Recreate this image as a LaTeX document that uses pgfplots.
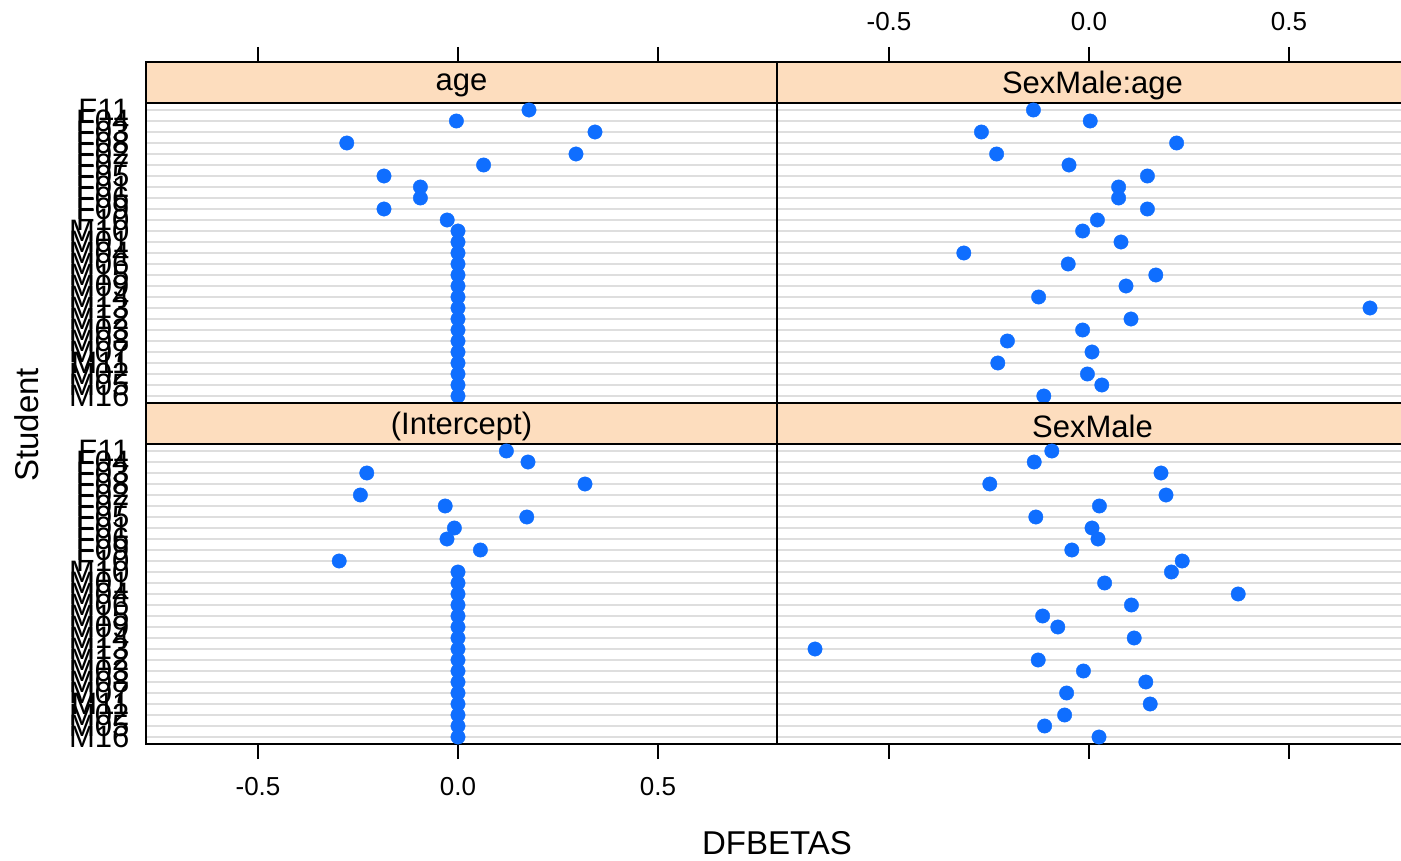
\documentclass[border=0pt]{standalone}
\usepackage{fontspec}
\setmainfont{Liberation Sans}
\usepackage{pgfplots}
\pgfplotsset{compat=1.18}

\definecolor{dotblue}{RGB}{15,110,255}
\definecolor{stripcol}{RGB}{253,221,190}
\definecolor{gridcol}{RGB}{222,222,222}

% rows, bottom to top
\def\students{M16,M05,M02,M11,M07,M08,M03,M12,M13,M14,M09,M15,M06,M04,M01,M10,F10,F09,F06,F01,F05,F07,F02,F08,F03,F04,F11}

\pgfplotstableread{
row val
1 0
2 0
3 0
4 0
5 0
6 0
7 0
8 0
9 0
10 0
11 0
12 0
13 0
14 0
15 0
16 0
17 -0.027
18 -0.185
19 -0.094
20 -0.094
21 -0.185
22 0.064
23 0.295
24 -0.278
25 0.3425
26 -0.004
27 0.1775
}\agetab

\pgfplotstableread{
row val
1 -0.113
2 0.032
3 -0.004
4 -0.228
5 0.0075
6 -0.204
7 -0.016
8 0.105
9 0.7025
10 -0.126
11 0.0925
12 0.167
13 -0.052
14 -0.313
15 0.08
16 -0.016
17 0.021
18 0.146
19 0.074
20 0.074
21 0.146
22 -0.05
23 -0.231
24 0.219
25 -0.269
26 0.003
27 -0.139
}\sexagetab

\pgfplotstableread{
row val
1 0
2 0
3 0
4 0
5 0
6 0
7 0
8 0
9 0
10 0
11 0
12 0
13 0
14 0
15 0
16 0
17 -0.297
18 0.056
19 -0.0275
20 -0.009
21 0.172
22 -0.032
23 -0.244
24 0.3175
25 -0.228
26 0.175
27 0.121
}\intertab

\pgfplotstableread{
row val
1 0.025
2 -0.111
3 -0.061
4 0.153
5 -0.056
6 0.142
7 -0.014
8 -0.127
9 -0.685
10 0.113
11 -0.078
12 -0.116
13 0.106
14 0.373
15 0.039
16 0.206
17 0.233
18 -0.043
19 0.0225
20 0.0075
21 -0.133
22 0.026
23 0.1925
24 -0.248
25 0.18
26 -0.137
27 -0.093
}\sextab

\pgfplotsset{
  dfb/.style={
    scale only axis, width=631pt, height=341pt,
    anchor=south west,
    xmin=-0.78, xmax=0.7975, ymin=0.364, ymax=31.364,
    xtick={-0.5,0,0.5}, xticklabels={-0.5,0.0,0.5},
    ytick={1,...,27}, yticklabels={},
    ytick style={draw=none},
    ymajorgrids, grid style={color=gridcol, line width=1.5pt},
    tick align=outside, major tick length=15pt,
    xtick style={black, line width=1.6pt},
    axis line style={line width=1.6pt},
    xticklabel style={font=\fontsize{26}{26}\selectfont},
    yticklabel style={font=\fontsize{31}{31}\selectfont, xshift=2pt},
  },
  dots/.style={only marks, mark=*, mark size=7.2pt,
    mark options={fill=dotblue, draw=dotblue}},
}

\newcommand{\strip}[1]{%
  \filldraw[fill=stripcol, line width=1.6pt] (rel axis cs:0,0.8798) rectangle (rel axis cs:1,1);
  \node[font=\fontsize{31}{31}\selectfont] at (rel axis cs:0.5,0.932) {#1};
}

\begin{document}
\begin{tikzpicture}
\useasboundingbox (0pt,0pt) rectangle (1401pt,860pt);

% top left: age
\begin{axis}[dfb, at={(146pt,457pt)},
  xtick pos=right, xticklabels={},
  ytick pos=left, yticklabels/.expanded={\students}]
\addplot[dots] table[x=val, y=row] {\agetab};
\strip{age}
\end{axis}

% top right: SexMale:age
\begin{axis}[dfb, at={(777pt,457pt)},
  xtick pos=right, xticklabel pos=right,
  xticklabel style={yshift=13pt}]
\addplot[dots] table[x=val, y=row] {\sexagetab};
\strip{SexMale:age}
\end{axis}

% bottom left: (Intercept)
\begin{axis}[dfb, at={(146pt,116pt)},
  xtick pos=left, xticklabel pos=left,
  xticklabel style={yshift=-15pt},
  ytick pos=left, yticklabels/.expanded={\students}]
\addplot[dots] table[x=val, y=row] {\intertab};
\strip{(Intercept)}
\end{axis}

% bottom right: SexMale
\begin{axis}[dfb, at={(777pt,116pt)},
  xtick pos=left, xticklabels={}]
\addplot[dots] table[x=val, y=row] {\sextab};
\strip{SexMale}
\end{axis}

\node[rotate=90, font=\fontsize{33}{33}\selectfont] at (27pt,435pt) {Student};
\node[anchor=base, inner sep=0pt, font=\fontsize{33}{33}\selectfont] at (777pt,6pt) {DFBETAS};
\end{tikzpicture}
\end{document}
